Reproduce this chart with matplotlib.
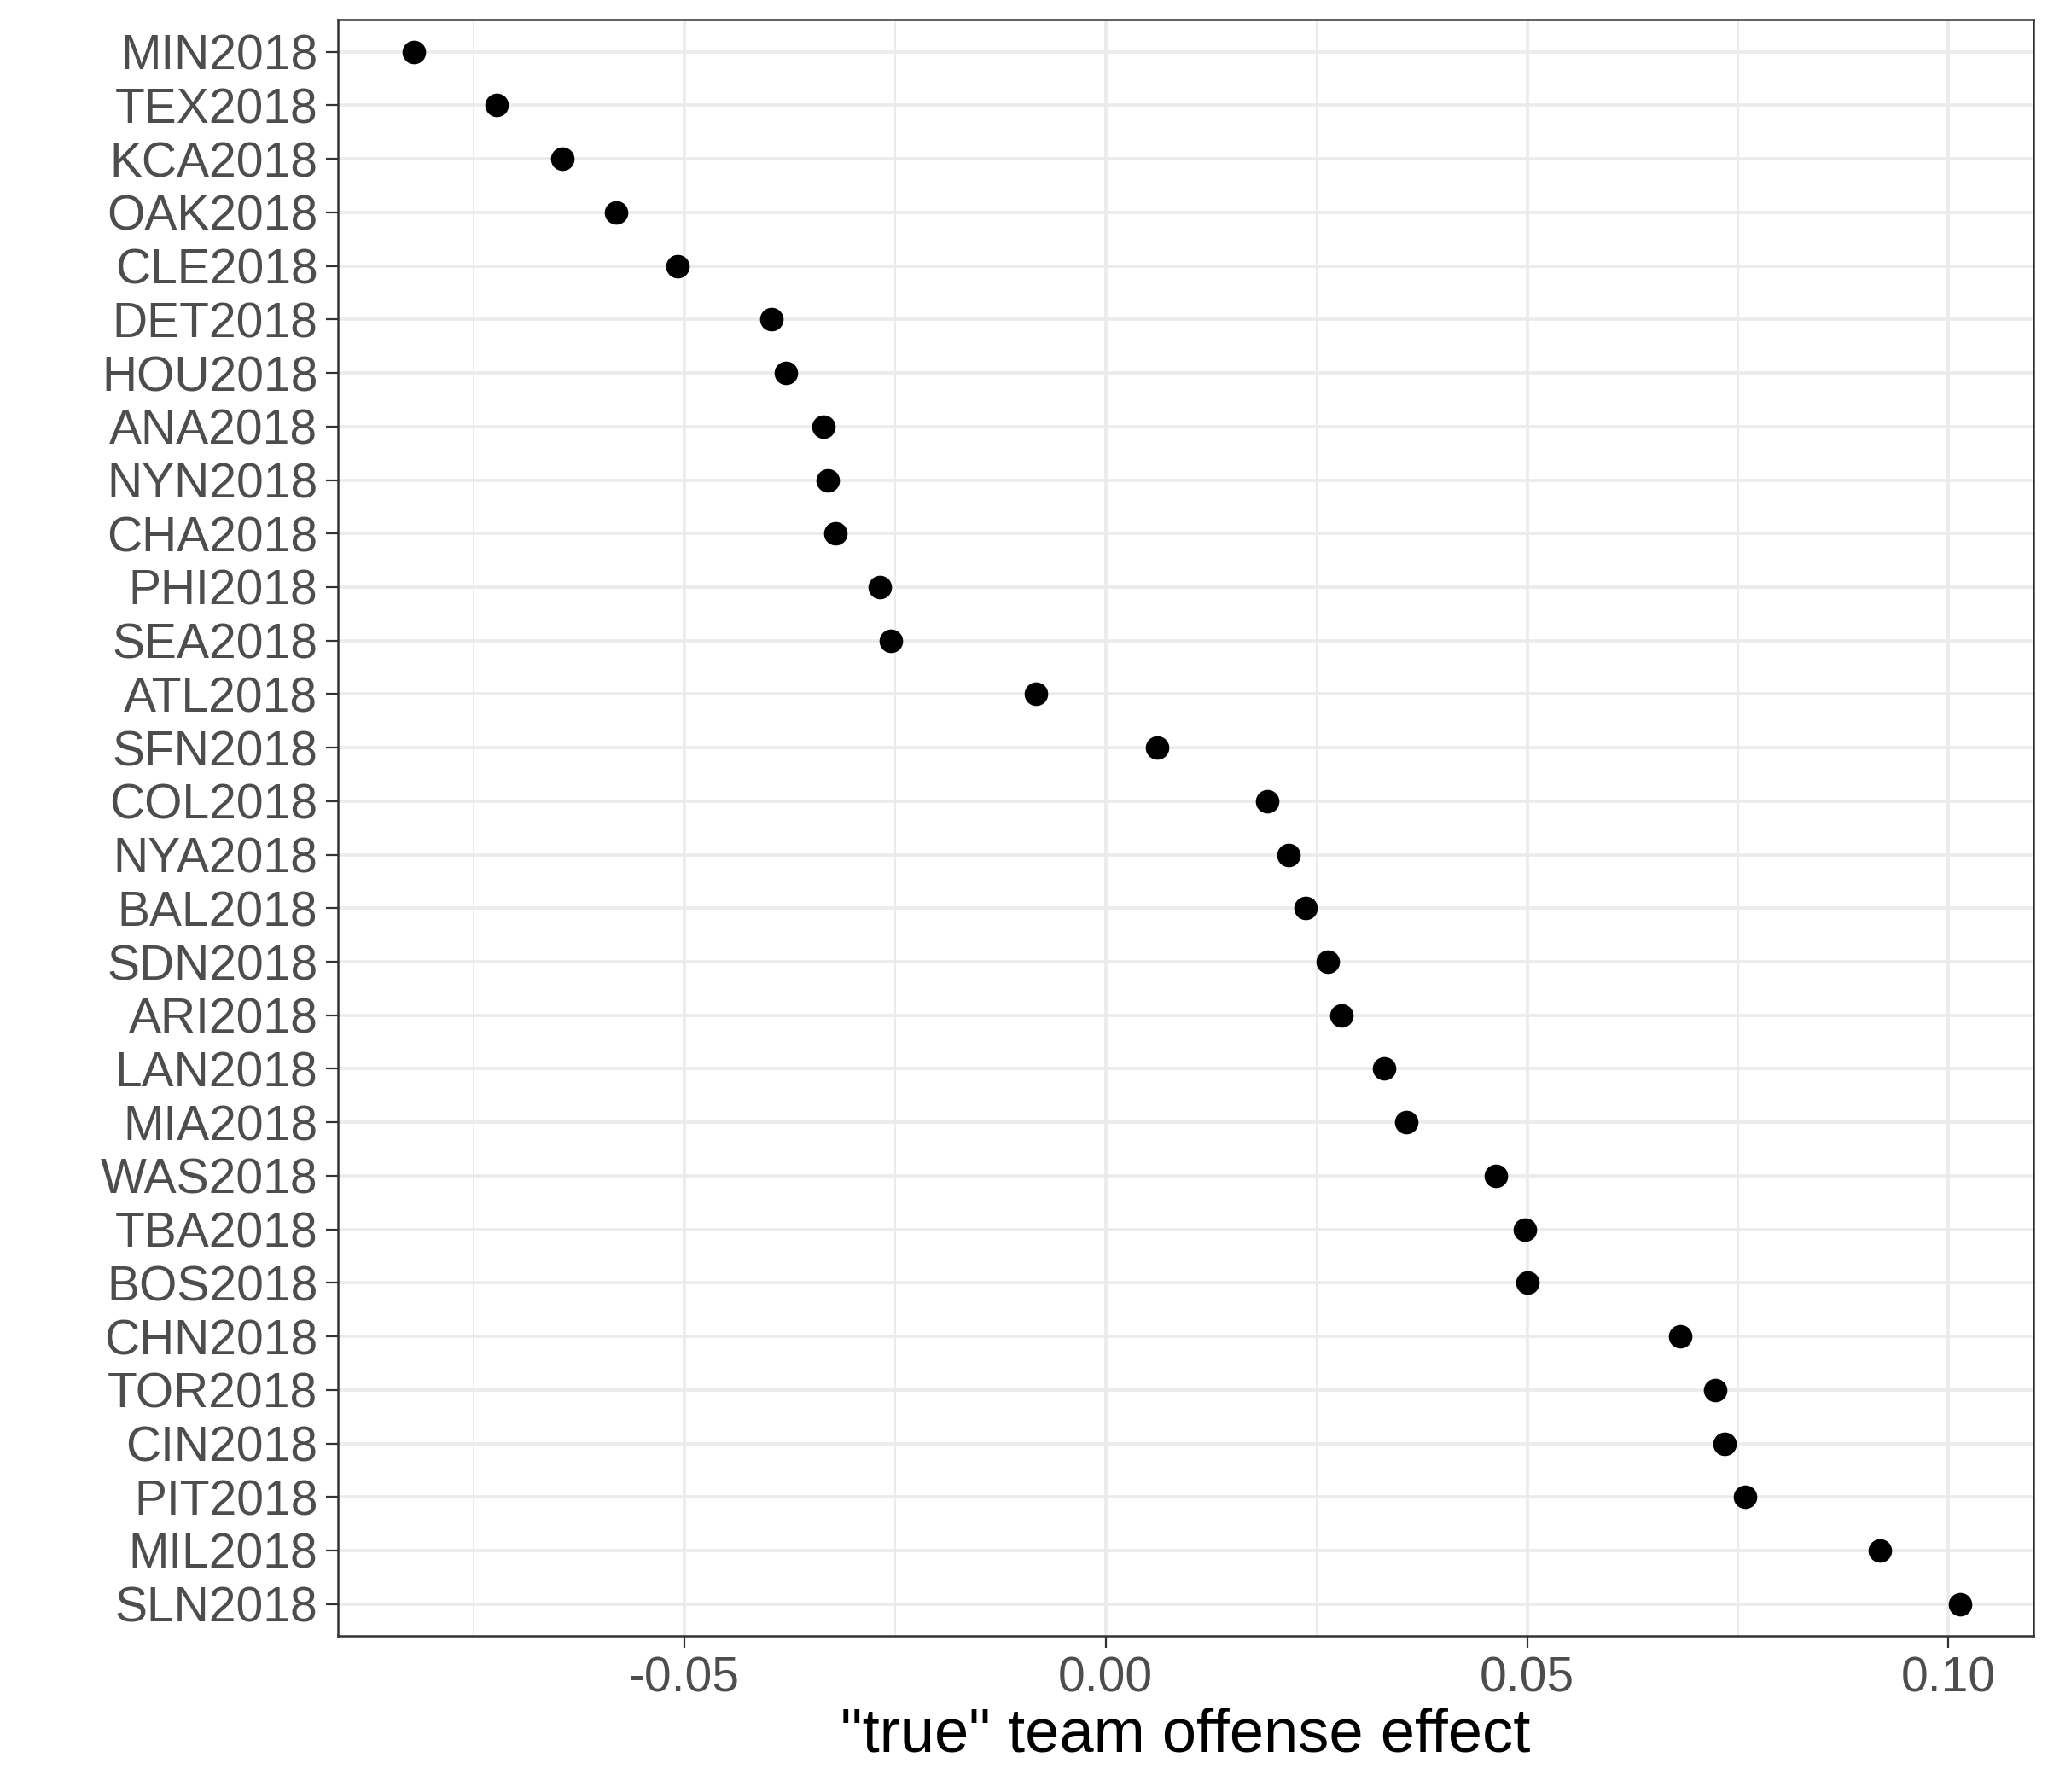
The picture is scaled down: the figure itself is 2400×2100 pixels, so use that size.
import matplotlib
matplotlib.use("Agg")
import matplotlib.pyplot as plt

teams = ["MIN2018", "TEX2018", "KCA2018", "OAK2018", "CLE2018", "DET2018", "HOU2018",
         "ANA2018", "NYN2018", "CHA2018", "PHI2018", "SEA2018", "ATL2018", "SFN2018",
         "COL2018", "NYA2018", "BAL2018", "SDN2018", "ARI2018", "LAN2018", "MIA2018",
         "WAS2018", "TBA2018", "BOS2018", "CHN2018", "TOR2018", "CIN2018", "PIT2018",
         "MIL2018", "SLN2018"]
effect = [-0.0821, -0.0723, -0.0645, -0.0581, -0.0508, -0.0397, -0.0379,
          -0.0335, -0.0330, -0.0321, -0.0268, -0.0255, -0.0083, 0.0061,
          0.0192, 0.0217, 0.0237, 0.0263, 0.0280, 0.0330, 0.0357,
          0.0463, 0.0497, 0.0500, 0.0682, 0.0723, 0.0734, 0.0759,
          0.0919, 0.1014]

plt.rcParams["font.family"] = ["Liberation Sans", "DejaVu Sans"]
fig = plt.figure(figsize=(12, 10.5), dpi=200)
ax = fig.add_axes([0.165, 0.087, 0.828, 0.902])

ypos = list(range(len(teams)))[::-1]
ax.scatter(effect, ypos, s=80, color="black", zorder=3)

ax.set_xlim(-0.0911, 0.1101)
ax.set_ylim(-0.6, len(teams) - 0.4)
ax.set_yticks(ypos)
ax.set_yticklabels(teams)
ax.set_xticks([-0.05, 0.0, 0.05, 0.10])
ax.set_xticklabels(["-0.05", "0.00", "0.05", "0.10"])
ax.set_xticks([-0.075, -0.025, 0.025, 0.075], minor=True)
ax.grid(which="major", color="#ebebeb", linewidth=1.3)
ax.grid(which="minor", axis="x", color="#ebebeb", linewidth=0.7)
ax.set_axisbelow(True)
for s in ax.spines.values():
    s.set_color("#333333")
    s.set_linewidth(0.9)
ax.tick_params(axis="both", which="major", labelsize=20.5, colors="#333333",
               labelcolor="#4d4d4d", length=5)
ax.tick_params(which="minor", length=0)
ax.set_xlabel('"true" team offense effect', fontsize=26, labelpad=2)

fig.savefig("out.png")
